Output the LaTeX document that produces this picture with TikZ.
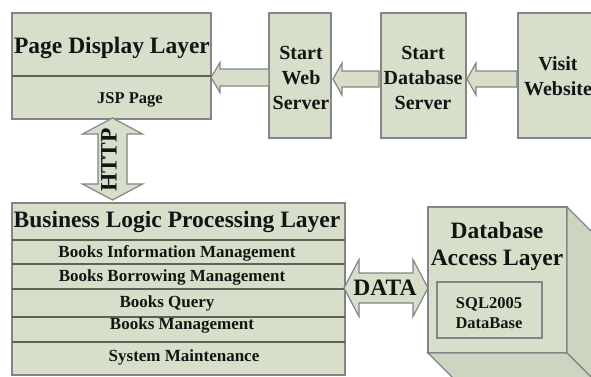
\documentclass[tikz,border=0pt]{standalone}
\usepackage{fontspec}
\setmainfont{Liberation Serif}
\usetikzlibrary{calc}
\definecolor{boxfill}{HTML}{D7DFCA}
\definecolor{sidefill}{HTML}{CDD5C0}
\definecolor{boxline}{HTML}{858585}
\definecolor{rowline}{HTML}{5E6358}
\definecolor{ink}{HTML}{141414}
\begin{document}
\begin{tikzpicture}[x=1pt,y=1pt,
  box/.style={draw=boxline, fill=boxfill, line width=1.3pt, inner sep=0pt, outer sep=0pt},
  sideface/.style={draw=boxline, fill=sidefill, line width=1.3pt, line join=miter},
  barrow/.style={draw=boxline, fill=boxfill, line width=1.2pt, line join=miter},
  divider/.style={draw=rowline, line width=1.1pt},
  lbl/.style={text=ink, inner sep=0pt, align=center},
  big/.style={lbl, font=\fontsize{23.5}{27}\selectfont\bfseries},
  mid/.style={lbl, font=\fontsize{20}{25}\selectfont\bfseries},
  rowtxt/.style={lbl, font=\fontsize{17}{20}\selectfont\bfseries},
  small/.style={lbl, font=\fontsize{16.5}{20}\selectfont\bfseries}]
\useasboundingbox (0,0) rectangle (591,376);
\clip (0,0) rectangle (591,376);
\fill[white] (0,0) rectangle (591,376);

% top row of boxes
\node[box, minimum width=199pt, minimum height=106pt] (page) at (111.5,310) {};
\node[box, minimum width=62pt, minimum height=125pt] (web) at (300,300.5) {};
\node[box, minimum width=85pt, minimum height=125pt] (dbs) at (423.5,300.5) {};
\node[box, minimum width=82pt, minimum height=125pt] (visit) at (559,300.5) {};
\draw[divider] ($(page.west)+(0,-10)$) -- ($(page.east)+(0,-10)$);

% business logic layer
\node[box, minimum width=333pt, minimum height=172pt] (biz) at (178.5,87) {};
\foreach \dy in {49,25,0,-28,-53}
  \draw[divider] ($(biz.west)+(0,\dy)$) -- ($(biz.east)+(0,\dy)$);

% database access layer as a solid block
\node[box, minimum width=139pt, minimum height=146pt] (dal) at (497.5,96) {};
\draw[sideface] (dal.north east) -- ++(25,-25) -- ++(0,-146) -- (dal.south east) -- cycle;
\draw[sideface] (dal.south west) -- (dal.south east) -- ++(25,-25) -- ++(-139,0) -- cycle;
\node[box, minimum width=105pt, minimum height=56pt] (sql) at (489.5,66) {};

% block arrows between the top boxes
\draw[barrow] let \p1=(page.east), \p2=(web.west) in
  (\x1,298.5) -- (\x1+9,313.5) -- (\x1+9,307) -- (\x2,307) -- (\x2,290)
  -- (\x1+9,290) -- (\x1+9,283.5) -- cycle;
\draw[barrow] let \p1=(web.east), \p2=(dbs.west) in
  (\x1+2,297) -- (\x1+11,313) -- (\x1+11,305) -- (\x2-2,305) -- (\x2-2,289)
  -- (\x1+11,289) -- (\x1+11,281) -- cycle;
\draw[barrow] let \p1=(dbs.east), \p2=(visit.west) in
  (\x1+1,297) -- (\x1+10,313) -- (\x1+10,305) -- (\x2-1,305) -- (\x2-1,289)
  -- (\x1+10,289) -- (\x1+10,281) -- cycle;

% HTTP double arrow
\draw[barrow] let \p1=(page.south), \p2=(biz.north) in
  (112.5,\y1+1) -- (142.5,\y1-15) -- (127,\y1-15) -- (127,\y2+19) -- (142.5,\y2+19)
  -- (112.5,\y2+3) -- (82.5,\y2+19) -- (98,\y2+19) -- (98,\y1-15) -- (82.5,\y1-15) -- cycle;

% DATA double arrow
\draw[barrow] let \p1=(biz.east), \p2=(dal.west) in
  (\x1-1,88) -- (\x1+14,116.5) -- (\x1+14,103) -- (\x2-15,103) -- (\x2-15,116.5)
  -- (\x2,88) -- (\x2-15,59.5) -- (\x2-15,73) -- (\x1+14,73) -- (\x1+14,59.5) -- cycle;

% labels
\node[big] (pageT) at (112,328) {Page Display Layer};
\node[small] (jspT) at (130,276) {JSP Page};
\node[mid] (webT) at (301,298) {Start\\Web\\Server};
\node[mid] (dbsT) at (423,298) {Start\\Database\\Server};
\node[mid] (visitT) at (558,299.5) {Visit\\Website};
\node[big, rotate=90] (httpT) at (109,216) {HTTP};
\node[big] (bizT) at (177,154) {Business Logic Processing Layer};
\node[rowtxt] (r1) at (177,123) {Books Information Management};
\node[rowtxt] (r2) at (172,99) {Books Borrowing Management};
\node[rowtxt] (r3) at (167,73) {Books Query};
\node[rowtxt] (r4) at (182,51) {Books Management};
\node[rowtxt] (r5) at (184,19) {System Maintenance};
\node[big] (dataT) at (385,88) {DATA};
\node[big] (dalT) at (497,129.5) {Database\\Access Layer};
\node[small] (sqlT) at (489,63) {SQL2005\\DataBase};
\end{tikzpicture}
\end{document}
